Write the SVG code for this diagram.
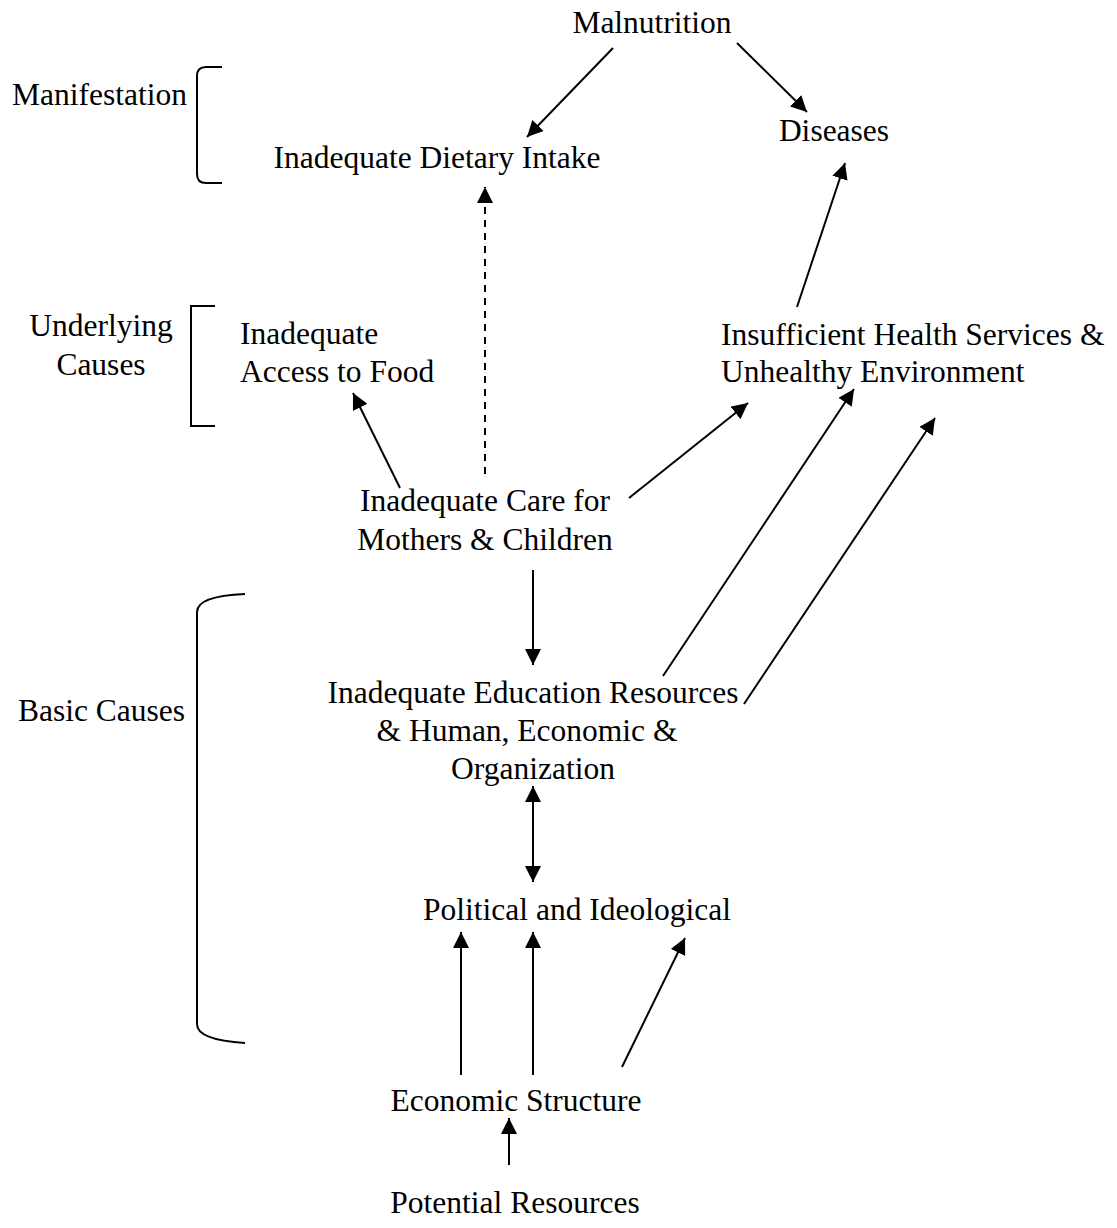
<svg xmlns="http://www.w3.org/2000/svg" width="1117" height="1228" viewBox="0 0 1117 1228">
<defs>
<style>
text{font-family:"Liberation Serif","Times New Roman",serif;font-size:31.5px;fill:#000}
.c{stroke:#000;stroke-width:2;fill:none}
.b{stroke:#000;stroke-width:2;fill:none}
</style>
<marker id="ah" viewBox="0 0 10 10" refX="10" refY="5" markerWidth="8" markerHeight="8" orient="auto" markerUnits="strokeWidth">
<path d="M0,0 L10,5 L0,10 z" fill="#000"/>
</marker>
<marker id="as" viewBox="0 0 10 10" refX="0" refY="5" markerWidth="8" markerHeight="8" orient="auto" markerUnits="strokeWidth">
<path d="M10,0 L0,5 L10,10 z" fill="#000"/>
</marker>
</defs>
<rect width="1117" height="1228" fill="#fff"/>
<g id="labels">
<g id="manifestation"><text x="12" y="105">Manifestation</text><path class="b" d="M222,67 H206 Q197,67 197,76 V174 Q197,183 206,183 H222"/></g>
<g id="underlying"><text x="101" y="336" text-anchor="middle">Underlying</text><text x="101" y="375" text-anchor="middle">Causes</text><path class="b" d="M215,306 H191 V426 H215"/></g>
<g id="basic"><text x="18" y="721">Basic Causes</text><path class="b" d="M245,594 Q197,596 197,612 V1024 Q197,1040 245,1043"/></g>
</g>
<g id="nodes">
<g id="malnutrition"><text x="652" y="33" text-anchor="middle">Malnutrition</text></g>
<g id="dietary"><text x="437" y="168" text-anchor="middle">Inadequate Dietary Intake</text></g>
<g id="diseases"><text x="834" y="141" text-anchor="middle">Diseases</text></g>
<g id="food"><text x="240" y="344">Inadequate</text><text x="240" y="382">Access to Food</text></g>
<g id="health"><text x="721" y="345">Insufficient Health Services &amp;</text><text x="721" y="382">Unhealthy Environment</text></g>
<g id="care"><text x="485" y="511" text-anchor="middle">Inadequate Care for</text><text x="485" y="550" text-anchor="middle">Mothers &amp; Children</text></g>
<g id="education"><text x="533" y="703" text-anchor="middle">Inadequate Education Resources</text><text x="527" y="741" text-anchor="middle">&amp; Human, Economic &amp;</text><text x="533" y="779" text-anchor="middle">Organization</text></g>
<g id="political"><text x="577" y="920" text-anchor="middle">Political and Ideological</text></g>
<g id="economic"><text x="516" y="1111" text-anchor="middle">Economic Structure</text></g>
<g id="potential"><text x="515" y="1213" text-anchor="middle">Potential Resources</text></g>
</g>
<g id="connectors">
<line class="c" x1="613" y1="48" x2="527" y2="137" marker-end="url(#ah)"/>
<line class="c" x1="737" y1="43" x2="807" y2="112" marker-end="url(#ah)"/>
<line class="c" x1="485" y1="474" x2="485" y2="187" stroke-dasharray="7,6" marker-end="url(#ah)"/>
<line class="c" x1="797" y1="307" x2="845" y2="163" marker-end="url(#ah)"/>
<line class="c" x1="400" y1="488" x2="353" y2="393" marker-end="url(#ah)"/>
<line class="c" x1="629" y1="498" x2="748" y2="403" marker-end="url(#ah)"/>
<line class="c" x1="533" y1="570" x2="533" y2="665" marker-end="url(#ah)"/>
<line class="c" x1="663" y1="676" x2="854" y2="389" marker-end="url(#ah)"/>
<line class="c" x1="744" y1="704" x2="935" y2="418" marker-end="url(#ah)"/>
<line class="c" x1="533" y1="786" x2="533" y2="882" marker-start="url(#as)" marker-end="url(#ah)"/>
<line class="c" x1="461" y1="1075" x2="461" y2="932" marker-end="url(#ah)"/>
<line class="c" x1="533" y1="1075" x2="533" y2="932" marker-end="url(#ah)"/>
<line class="c" x1="622" y1="1067" x2="685" y2="938" marker-end="url(#ah)"/>
<line class="c" x1="509" y1="1165" x2="509" y2="1118" marker-end="url(#ah)"/>
</g>
</svg>
